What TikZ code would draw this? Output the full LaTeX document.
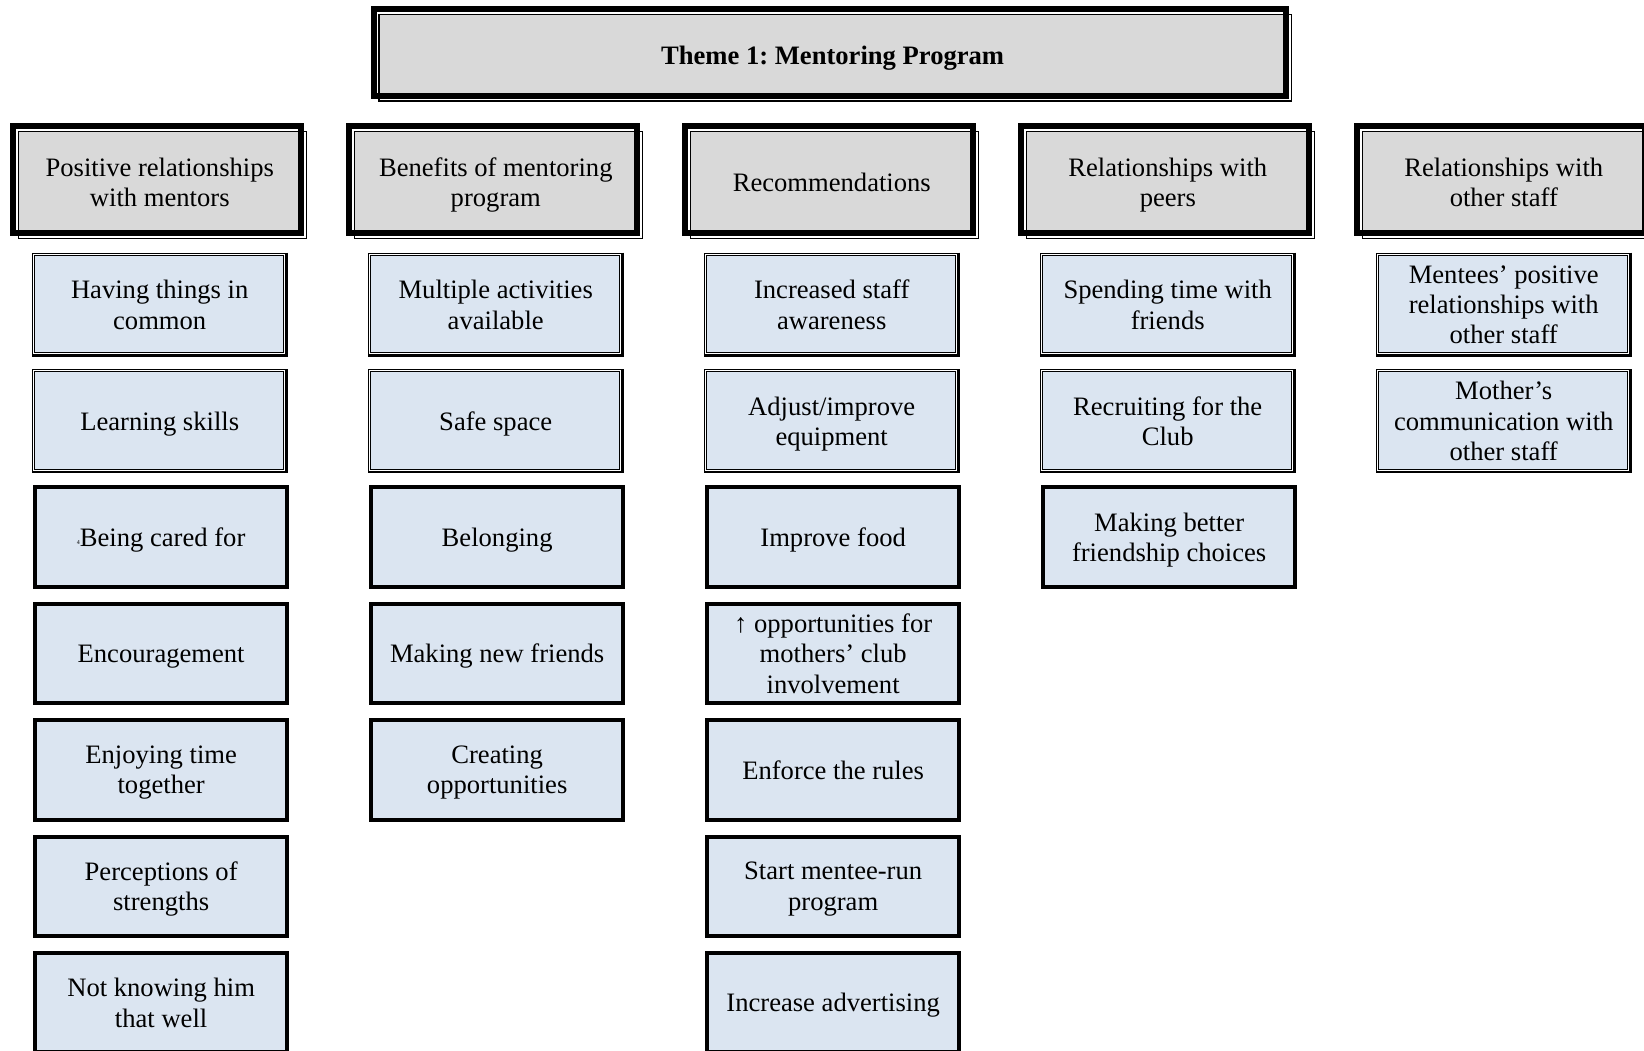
\documentclass[tikz,border=0pt]{standalone}
\usepackage{fontspec}
\setmainfont{Liberation Serif}
\usetikzlibrary{backgrounds}
\definecolor{hdrgray}{HTML}{D9D9D9}
\definecolor{cellblue}{HTML}{DBE5F1}

% Word-style "thick-thin" frame: a thick and a thin rectangle of equal size,
% shifted diagonally against each other, with the fill between them.
% #1 node, #2 half offset, #3 thick line width, #4 thin line width
\newcommand\raisedframe[4]{%
  \fill[hdrgray] ([shift={(#2+#4/2,#2+#4/2)}]#1.north west) rectangle ([shift={(-#2-#3/2,-#2-#3/2)}]#1.south east);
  \draw[line width=#3pt] ([shift={(-#2,-#2)}]#1.north west) rectangle ([shift={(-#2,-#2)}]#1.south east);
  \draw[line width=#4pt] ([shift={(#2,#2)}]#1.north west) rectangle ([shift={(#2,#2)}]#1.south east);
}
% thin double frame with a heavier right/bottom outer edge
\newcommand\doubleframe[1]{%
  \fill[cellblue] ([shift={(2.8,2.8)}]#1.north west) rectangle ([shift={(-4,-4)}]#1.south east);
  \draw[line width=1.3pt] ([shift={(0.65,0.65)}]#1.north west) rectangle ([shift={(-0.65,-0.65)}]#1.south east);
  \draw[line width=2.4pt] ([shift={(-1.2,0)}]#1.north east) -- ([shift={(-1.2,-1.2)}]#1.south east) -- ([shift={(0,-1.2)}]#1.south west);
  \draw[line width=1pt] ([shift={(2.8,2.8)}]#1.north west) rectangle ([shift={(-4,-4)}]#1.south east);
}

\begin{document}
\begin{tikzpicture}[x=1pt,y=-1pt,
  txt/.style={font=\fontsize{26.6}{30.4}\selectfont\frenchspacing, align=center,
              inner sep=0pt, outer sep=0pt, text depth=0pt},
  titlebox/.style={txt, rectangle, minimum width=912.25pt, minimum height=86.7pt,
                   font=\fontsize{26.6}{30.4}\selectfont\frenchspacing\bfseries},
  headbox/.style={txt, rectangle, minimum width=288pt, minimum height=107.25pt},
  dblbox/.style={txt, rectangle, minimum width=256pt, minimum height=104pt},
  thickbox/.style={txt, rectangle, fill=cellblue, draw=black, line width=4pt,
                   minimum width=251.7pt, minimum height=99.3pt},
]
\useasboundingbox (0,0) rectangle (1644,1051);

% title
\node[titlebox] (title) at (832.6,55.2) {Theme 1: Mentoring Program};

% sub-theme headers
\node[headbox] (h1) at (159.8,182.3)  {Positive relationships\\with mentors};
\node[headbox] (h2) at (495.8,182.3)  {Benefits of mentoring\\program};
\node[headbox] (h3) at (831.8,182.3)  {Recommendations};
\node[headbox] (h4) at (1167.8,182.3) {Relationships with\\peers};
\node[headbox] (h5) at (1503.8,182.3) {Relationships with\\other staff};

% column 1
\node[dblbox]   (a1) at (159.7,304.6)   {Having things in\\common};
\node[dblbox]   (a2) at (159.7,421.0)   {Learning skills};
\node[thickbox] (a3) at (161.15,537.05) {\raisebox{2.3pt}{\fontsize{6}{6}\selectfont 4}Being cared for};
\node[thickbox] (a4) at (161.15,653.45) {Encouragement};
\node[thickbox] (a5) at (161.15,769.85) {Enjoying time\\together};
\node[thickbox] (a6) at (161.15,886.25) {Perceptions of\\strengths};
\node[thickbox] (a7) at (161.15,1002.65) {Not knowing him\\that well};

% column 2
\node[dblbox]   (b1) at (495.7,304.6)   {Multiple activities\\available};
\node[dblbox]   (b2) at (495.7,421.0)   {Safe space};
\node[thickbox] (b3) at (497.15,537.05) {Belonging};
\node[thickbox] (b4) at (497.15,653.45) {Making new friends};
\node[thickbox] (b5) at (497.15,769.85) {Creating\\opportunities};

% column 3
\node[dblbox]   (c1) at (831.7,304.6)   {Increased staff\\awareness};
\node[dblbox]   (c2) at (831.7,421.0)   {Adjust/improve\\equipment};
\node[thickbox] (c3) at (833.15,537.05) {Improve food};
\node[thickbox] (c4) at (833.15,653.45) {↑ opportunities for\\mothers’ club\\involvement};
\node[thickbox] (c5) at (833.15,769.85) {Enforce the rules};
\node[thickbox] (c6) at (833.15,886.25) {Start mentee-run\\program};
\node[thickbox] (c7) at (833.15,1002.65) {Increase advertising};

% column 4
\node[dblbox]   (d1) at (1167.7,304.6)   {Spending time with\\friends};
\node[dblbox]   (d2) at (1167.7,421.0)   {Recruiting for the\\Club};
\node[thickbox] (d3) at (1169.15,537.05) {Making better\\friendship choices};

% column 5
\node[dblbox]   (e1) at (1503.7,304.6) {Mentees’ positive\\relationships with\\other staff};
\node[dblbox]   (e2) at (1503.7,421.0) {Mother’s\\communication with\\other staff};

\begin{pgfonlayer}{background}
  \fill[white] (0,0) rectangle (1644,1051);
  \raisedframe{title}{2.5}{6.3}{1.3}
  \foreach \n in {h1,h2,h3,h4,h5} {\raisedframe{\n}{2.9}{5.5}{1.3}}
  \foreach \n in {a1,a2,b1,b2,c1,c2,d1,d2,e1,e2} {\doubleframe{\n}}
\end{pgfonlayer}
\end{tikzpicture}
\end{document}
